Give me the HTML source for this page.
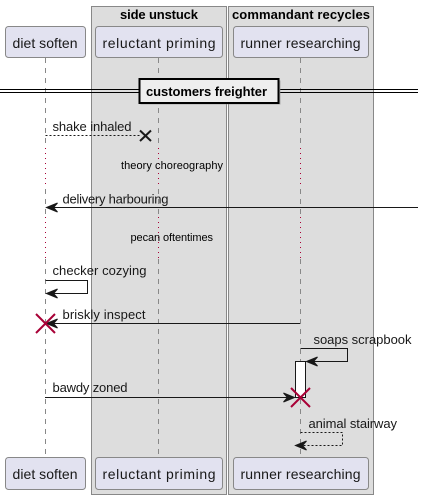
<!DOCTYPE html>
<html lang="en">
<head>
<meta charset="utf-8">
<title>Sequence diagram</title>
<style>
html,body{margin:0;padding:0;background:#fff;}
svg{display:block;}
text{font-family:"Liberation Sans",sans-serif;fill:#000;}
.p{font-size:14px;fill:#181818;}
.m{font-size:13px;fill:#181818;}
.d{font-size:11px;fill:#000;}
.b{font-size:13px;font-weight:bold;}
.part{fill:#E2E2F0;stroke:#888;stroke-width:1;}
.life{stroke:#888;stroke-width:1;stroke-dasharray:5 5;fill:none;}
.dots{stroke:#A80036;stroke-width:1;stroke-dasharray:1 4;fill:none;}
.msg{stroke:#181818;stroke-width:1;fill:none;}
.dash{stroke:#181818;stroke-width:1;stroke-dasharray:2 2;fill:none;}
.head{fill:#181818;stroke:#181818;stroke-width:1;}
.kill{stroke:#A80036;stroke-width:2;fill:none;}
</style>
</head>
<body>
<svg xmlns="http://www.w3.org/2000/svg" width="424" height="499" viewBox="0 0 424 499">
  <rect x="0" y="0" width="424" height="499" fill="#fff"/>

  <g>
    <rect x="91.5" y="6.5" width="135" height="488" fill="#DDDDDD" stroke="#888"/>
    <text class="b" x="120" y="19" textLength="78" lengthAdjust="spacing">side unstuck</text>
  </g>
  <g>
    <rect x="228.5" y="6.5" width="145" height="488" fill="#DDDDDD" stroke="#888"/>
    <text class="b" x="232" y="19" textLength="138" lengthAdjust="spacing">commandant recycles</text>
  </g>

  <g>
    <path class="life" d="M45.5 58V145M45.5 189V214M45.5 259V457"/>
    <path class="dots" d="M45.5 148V187M45.5 217V258"/>
  </g>
  <g>
    <path class="life" d="M158.5 58V145M158.5 189V214M158.5 259V457"/>
    <path class="dots" d="M158.5 148V187M158.5 217V258"/>
  </g>
  <g>
    <path class="life" d="M300.5 58V145M300.5 189V214M300.5 259V457"/>
    <path class="dots" d="M300.5 148V187M300.5 217V258"/>
  </g>

  <g>
    <rect class="part" x="5.5" y="26.5" width="80" height="31" rx="3" ry="3"/>
    <text class="p" x="12.5" y="48" textLength="65" lengthAdjust="spacing">diet soften</text>
  </g>
  <g>
    <rect class="part" x="95.5" y="26.5" width="127" height="31" rx="3" ry="3"/>
    <text class="p" x="102.5" y="48" textLength="113" lengthAdjust="spacing">reluctant priming</text>
  </g>
  <g>
    <rect class="part" x="233.5" y="26.5" width="135" height="31" rx="3" ry="3"/>
    <text class="p" x="240.5" y="48" textLength="120" lengthAdjust="spacing">runner researching</text>
  </g>

  <g>
    <path d="M0 89.5H140M0 92.5H140M280 89.5H418M280 92.5H418" stroke="#000" stroke-width="1" fill="none"/>
    <rect x="140.5" y="80.5" width="140" height="24" fill="#8a8a8a" opacity="0.6"/>
    <rect x="139.5" y="79" width="139" height="24" fill="#EEEEEE" stroke="#000" stroke-width="2"/>
    <text class="b" x="146" y="96" textLength="121" lengthAdjust="spacing">customers freighter</text>
  </g>

  <g>
    <line class="dash" x1="45.5" y1="135.5" x2="140" y2="135.5"/>
    <path d="M140 130.5L151 141M151 130.5L140 141" stroke="#181818" stroke-width="2" fill="none"/>
    <text class="m" x="52.5" y="131" textLength="79" lengthAdjust="spacing">shake inhaled</text>
  </g>

  <text class="d" x="121" y="169" textLength="102" lengthAdjust="spacing">theory choreography</text>

  <g>
    <line class="msg" x1="418" y1="207.5" x2="47" y2="207.5"/>
    <polygon class="head" points="46.5,207.5 57.5,203 53.5,207.5 57.5,212"/>
    <text class="m" x="62.5" y="203.5" textLength="106" lengthAdjust="spacing">delivery harbouring</text>
  </g>

  <text class="d" x="130.5" y="241" textLength="82.5" lengthAdjust="spacing">pecan oftentimes</text>

  <g>
    <path class="msg" d="M45.5 280.5H87.5V293.5H47"/>
    <polygon class="head" points="46.5,293.5 57.5,289 53.5,293.5 57.5,298"/>
    <text class="m" x="52.5" y="275" textLength="94" lengthAdjust="spacing">checker cozying</text>
  </g>

  <g>
    <line class="msg" x1="300" y1="323.5" x2="47" y2="323.5"/>
    <polygon class="head" points="46.5,323.5 57.5,319 53.5,323.5 57.5,328"/>
    <path class="kill" d="M36 314L55 333M55 314L36 333"/>
    <text class="m" x="62.5" y="319" textLength="83" lengthAdjust="spacing">briskly inspect</text>
  </g>

  <g>
    <path class="msg" d="M300.5 348.5H347.5V361.5H307"/>
    <text class="m" x="313.5" y="344" textLength="98" lengthAdjust="spacing">soaps scrapbook</text>
  </g>

  <rect x="295.5" y="361.5" width="10" height="36" fill="#fff" stroke="#181818"/>
  <polygon class="head" points="306.5,361.5 317.5,357 313.5,361.5 317.5,366"/>

  <g>
    <line class="msg" x1="45" y1="397.5" x2="294" y2="397.5"/>
    <polygon class="head" points="294.5,397.5 283.5,393 287.5,397.5 283.5,402"/>
    <path class="kill" d="M291 388L310 407M310 388L291 407"/>
    <text class="m" x="52.5" y="392" textLength="75" lengthAdjust="spacing">bawdy zoned</text>
  </g>

  <g>
    <path class="dash" d="M300.5 432.5H342.5V445.5H296"/>
    <polygon class="head" points="295.5,445.5 306.5,441 302.5,445.5 306.5,450"/>
    <text class="m" x="308.5" y="428" textLength="88.5" lengthAdjust="spacing">animal stairway</text>
  </g>

  <g>
    <rect class="part" x="5.5" y="457.5" width="80" height="32" rx="3" ry="3"/>
    <text class="p" x="12.5" y="479" textLength="65" lengthAdjust="spacing">diet soften</text>
  </g>
  <g>
    <rect class="part" x="95.5" y="457.5" width="127" height="32" rx="3" ry="3"/>
    <text class="p" x="102.5" y="479" textLength="113" lengthAdjust="spacing">reluctant priming</text>
  </g>
  <g>
    <rect class="part" x="233.5" y="457.5" width="135" height="32" rx="3" ry="3"/>
    <text class="p" x="240.5" y="479" textLength="120" lengthAdjust="spacing">runner researching</text>
  </g>
</svg>
</body>
</html>
